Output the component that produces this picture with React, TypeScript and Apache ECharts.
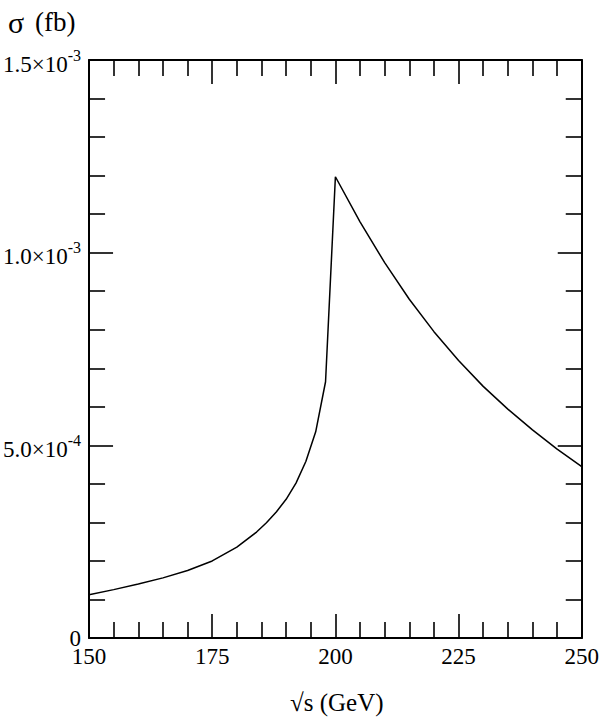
import React, { useEffect, useRef } from "react";
import * as echarts from "echarts";

// sqrt(s) in GeV
const sqrtS: number[] = [150, 155, 160, 165, 170, 175, 180, 184, 186, 188, 190, 192, 194, 196, 198, 200, 205, 210, 215, 220, 225, 230, 235, 240, 245, 250];
// cross section in fb
const sigma: number[] = [1.12e-4, 1.255e-4, 1.4e-4, 1.56e-4, 1.75e-4, 2.0e-4, 2.36e-4, 2.75e-4, 2.99e-4, 3.27e-4, 3.6e-4, 4.02e-4, 4.58e-4, 5.35e-4, 6.65e-4, 1.197e-3, 1.08e-3, 9.74e-4, 8.79e-4, 7.95e-4, 7.2e-4, 6.53e-4, 5.94e-4, 5.4e-4, 4.9e-4, 4.45e-4];

const yTickLabels: Record<number, string> = {
  0: "0",
  5: "{a|5.0×10}{b|-4}",
  10: "{a|1.0×10}{b|-3}",
  15: "{a|1.5×10}{b|-3}",
};

const FONT = "Liberation Serif";

export default function App() {
  const ref = useRef<HTMLDivElement>(null);
  useEffect(() => {
    document.body.style.margin = "0";
    const chart = echarts.init(ref.current!, null, { renderer: "svg" });
    const axisLine = { onZero: false, lineStyle: { color: "#000", width: 2 } };
    const tick = { inside: true, length: 24, lineStyle: { color: "#000", width: 1.6 } };
    const minor = { show: true, splitNumber: 5, length: 16, lineStyle: { color: "#000", width: 1.6 } };
    const xBase = { type: "value", min: 150, max: 250, interval: 25, axisLine, axisTick: tick, minorTick: minor, splitLine: { show: false } };
    const yBase = { type: "value", min: 0, max: 1.5e-3, interval: 5e-4, axisLine, axisTick: tick, minorTick: minor, splitLine: { show: false } };
    chart.setOption({
      animation: false,
      grid: { left: 89, right: 17, top: 60, bottom: 89 },
      xAxis: [
        {
          ...xBase,
          position: "bottom",
          axisLabel: { color: "#000", fontFamily: FONT, fontSize: 23, margin: 7 },
        },
        { ...xBase, position: "top", axisLabel: { show: false } },
      ],
      yAxis: [
        {
          ...yBase,
          position: "left",
          axisLabel: {
            color: "#000",
            fontFamily: FONT,
            fontSize: 23,
            margin: 8,
            formatter: (v: number) => yTickLabels[Math.round(v * 1e4)] ?? "",
            rich: {
              a: { fontFamily: FONT, fontSize: 23, color: "#000", lineHeight: 26, padding: [8, 0, 0, 0] },
              b: { fontFamily: FONT, fontSize: 16, color: "#000", lineHeight: 26, verticalAlign: "top", padding: [0, 0, 6, 0] },
            },
          },
        },
        { ...yBase, position: "right", axisLabel: { show: false } },
      ],
      series: [
        {
          type: "line",
          data: sqrtS.map((x, i) => [x, sigma[i]]),
          showSymbol: false,
          smooth: false,
          lineStyle: { color: "#000", width: 1.5 },
          xAxisIndex: 0,
          yAxisIndex: 0,
        },
      ],
      graphic: [
        { type: "text", left: 8, top: 7, style: { text: "σ", fontFamily: FONT, fontSize: 30, fill: "#000" } },
        { type: "text", left: 35, top: 8, style: { text: "(fb)", fontFamily: FONT, fontSize: 27, fill: "#000" } },
        { type: "text", left: 290, top: 690, style: { text: "√s (GeV)", fontFamily: FONT, fontSize: 25, fill: "#000" } },
      ],
    });
    return () => chart.dispose();
  }, []);
  return <div ref={ref} style={{ width: 602, height: 727 }} />;
}
